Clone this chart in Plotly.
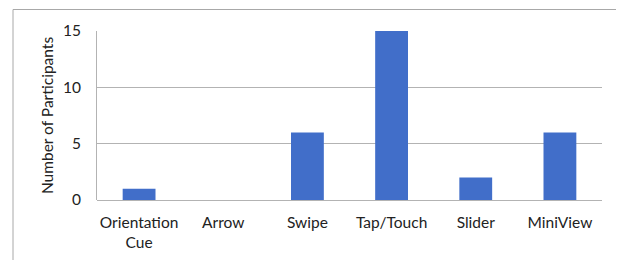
import plotly.graph_objects as go

categories = ["Orientation<br>Cue", "Arrow", "Swipe", "Tap/Touch", "Slider", "MiniView"]
participants = [1, 0, 6, 15, 2, 6]
y_ticks = [0, 5, 10, 15]

fig = go.Figure()
fig.add_trace(go.Bar(
    x=categories, y=participants,
    marker=dict(color="#416ec9", line=dict(width=0)),
    width=0.39,
))

# page body has an 8px margin; compensate
OFF = 8
W, H = 624, 260
L, R, T, B = 97 - OFF, 30, 31 - OFF, 68
pw, ph = W - L - R, H - T - B

def px(x):
    return (x - OFF - L) / pw

def py(y):
    return (H - B - (y - OFF)) / ph

fig.update_layout(
    width=W, height=H,
    margin=dict(l=L, r=R, t=T, b=B),
    paper_bgcolor="white", plot_bgcolor="white",
    font=dict(family="Lato, 'Open Sans', sans-serif", size=15.5, color="#222"),
    showlegend=False,
    xaxis=dict(showgrid=False, showline=False, ticks="", zeroline=False,
               tickfont=dict(size=15.5), ticklabelstandoff=11),
    yaxis=dict(range=[0, 15], tickvals=y_ticks, showgrid=True, gridcolor="#b3b3b3",
               gridwidth=1, zeroline=True, zerolinecolor="#b3b3b3", zerolinewidth=1,
               showline=True, linecolor="#b3b3b3", linewidth=1, ticks="",
               ticklabelstandoff=12, tickfont=dict(size=15.5),
               title=dict(text="Number of Participants", font=dict(size=15.5), standoff=5)),
    shapes=[dict(type="rect", xref="paper", yref="paper",
                 x0=px(13), x1=px(619), y0=py(280), y1=py(9.5),
                 line=dict(color="#a8a8a8", width=1), fillcolor="rgba(0,0,0,0)", layer="below")],
)

fig.write_html("out.html")
